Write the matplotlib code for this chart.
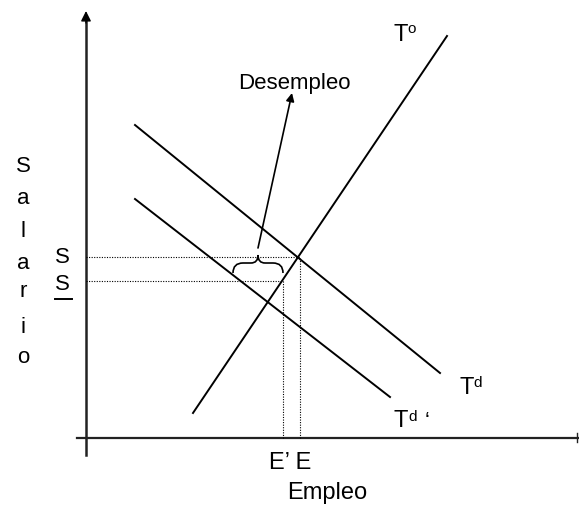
import matplotlib
matplotlib.use("Agg")
import matplotlib.pyplot as plt
from matplotlib.path import Path
from matplotlib.patches import PathPatch

plt.rcParams['font.family'] = ['Liberation Sans', 'DejaVu Sans']

# curve end points (employment, wage)
oferta_x = [107, 361]
oferta_y = [25, 402]
demanda_x = [49, 354]
demanda_y = [313, 65]
demanda2_x = [49, 304]
demanda2_y = [239, 41]

# equilibrium levels
salario_s = 181
salario_min = 157
empleo_e = 214
empleo_e2 = 197

# labels
salario_letters = list("Salario")
salario_base = [266, 234, 201, 169, 141, 105, 75]

fig = plt.figure(figsize=(5.79, 5.05), dpi=100)
ax = fig.add_axes([0, 0, 1, 1])
ax.set_xlim(-86, 493)
ax.set_ylim(-67, 438)
ax.axis('off')

# axes
ax.plot([-9, 492], [0, 0], color='#222222', lw=1.6)
ax.plot([491, 491], [-4, 5], color='#222222', lw=1)
ax.plot([0, 0], [-17, 420], color='#222222', lw=1.8)
ax.annotate('', xy=(0, 427), xytext=(0, 415),
            arrowprops=dict(arrowstyle='-|>', color='black', lw=1,
                            mutation_scale=15, shrinkA=0, shrinkB=0))

# dotted guide lines
dot = dict(color='black', lw=0.8, ls=(0, (1, 1.3)))
ax.plot([0, empleo_e], [salario_s, salario_s], **dot)
ax.plot([0, empleo_e2], [salario_min, salario_min], **dot)
ax.plot([empleo_e, empleo_e], [0, salario_s], **dot)
ax.plot([empleo_e2, empleo_e2], [0, salario_min], **dot)

# supply and demand
ax.plot(oferta_x, oferta_y, color='black', lw=1.4)
ax.plot(demanda_x, demanda_y, color='black', lw=1.4)
ax.plot(demanda2_x, demanda2_y, color='black', lw=1.4)

# brace over unemployment gap
bl, br, tip = 147, empleo_e2, 172
yb, ym, yt = 165, 175, 183
verts = [(bl, yb), (bl, ym), (bl + 10, ym), (tip - 7, ym), (tip, ym), (tip, yt),
         (tip, ym), (tip + 7, ym), (br - 10, ym), (br, ym), (br, yb)]
codes = [Path.MOVETO, Path.CURVE3, Path.CURVE3, Path.LINETO, Path.CURVE3, Path.CURVE3,
         Path.CURVE3, Path.CURVE3, Path.LINETO, Path.CURVE3, Path.CURVE3]
ax.add_patch(PathPatch(Path(verts, codes), fill=False, lw=1.2, color='black'))

ax.annotate('', xy=(206, 345), xytext=(172, 190),
            arrowprops=dict(arrowstyle='-|>', color='black', lw=1.2,
                            mutation_scale=12, shrinkA=0, shrinkB=0))
ax.text(208, 349, 'Desempleo', fontsize=16, ha='center', va='baseline')

# curve labels
ax.text(307, 397, 'T', fontsize=17, va='baseline')
ax.text(321, 405, 'o', fontsize=11, va='baseline')
ax.text(374, 44, 'T', fontsize=17, va='baseline')
ax.text(387, 51, 'd', fontsize=11, va='baseline')
ax.text(307, 11, 'T', fontsize=17, va='baseline')
ax.text(322, 17, 'd', fontsize=11, va='baseline')
ax.text(339, 11, '\u2018', fontsize=16, va='baseline')

# axis labels
ax.text(-31, 175, 'S', fontsize=16, va='baseline')
ax.text(-31, 148, 'S', fontsize=16, va='baseline')
ax.plot([-31, -14], [139, 139], color='black', lw=1.4)
for ch, yb_ in zip(salario_letters, salario_base):
    ax.text(-63, yb_, ch, fontsize=16, ha='center', va='baseline')
ax.text(183, -31, 'E\u2019 E', fontsize=17, va='baseline')
ax.text(201, -61, 'Empleo', fontsize=17, va='baseline')

fig.savefig('out.png', dpi=100)
